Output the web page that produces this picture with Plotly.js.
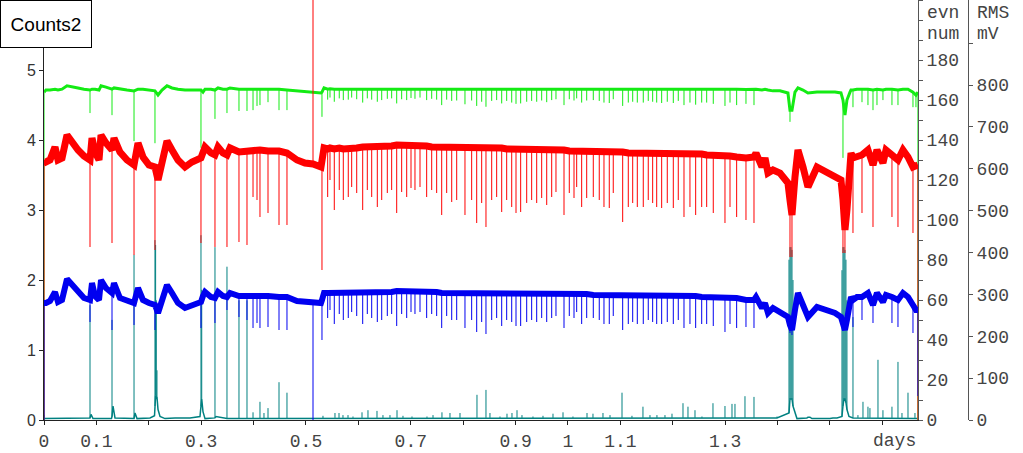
<!DOCTYPE html>
<html><head><meta charset="utf-8">
<script src="https://cdn.plot.ly/plotly-3.0.1.min.js"></script>
<style>html,body{margin:0;padding:0;background:#fff}#chart{width:1023px;height:453px}</style>
</head><body><div id="chart"></div>
<script>
const _ = null;

// ---- shared time base (days) for the evn / RMS series ----
const days = [
 0,0.0038,0.0115,0.0210,0.0267,0.0344,0.0439,0.0534,0.0649,0.0763,
 0.0878,0.0916,0.0973,0.1050,0.1088,0.1183,0.1298,0.1336,0.1450,0.1584,
 0.1718,0.1794,0.1889,0.2004,0.2118,0.2176,0.2252,0.2347,0.2443,0.2557,
 0.2691,0.2824,0.2996,0.3034,0.3073,0.3187,0.3263,0.3321,0.3416,0.3492,
 0.3550,0.3721,0.3874,0.3989,0.4065,0.4122,0.4275,0.4485,0.4637,0.4828,
 0.4981,0.5134,0.5286,0.5305,0.5344,
 0.5414,0.5458,0.5540,0.5635,0.5712,0.5807,0.5872,0.5968,0.6082,0.6170,
 0.6254,0.6361,0.6445,0.6552,0.6635,0.6731,0.6826,0.6922,0.7004,0.7080,
 0.7176,0.7303,0.7399,0.7494,0.7590,0.7685,0.7781,0.7876,0.8034,0.8162,
 0.8258,0.8353,0.8435,0.8544,0.8639,0.8735,0.8830,0.8926,0.9008,0.9097,
 0.9212,0.9307,0.9403,0.9498,0.9594,0.9689,0.9771,0.9924,1.0025,1.0115,
 1.0166,1.0261,1.0357,1.0483,1.0597,1.0687,1.0788,1.0864,1.1044,1.1151,
 1.1235,1.1323,1.1437,1.1532,1.1616,1.1693,1.1788,1.1895,1.2010,1.2105,
 1.2214,1.2328,1.2437,1.2552,1.2647,1.2773,1.2996,1.3092,1.3219,1.3397,
 1.3550,
 1.3588,1.3702,1.3760,1.3817,1.3912,1.4046,1.4198,1.4237,1.4275,1.4332,
 1.4389,1.4485,1.4580,1.4752,1.4943,1.5095,1.5210,1.5248,1.5286,1.5324,
 1.5382,1.5401,1.5439,1.5515,1.5611,1.5725,1.5821,1.5897,1.6011,1.6069,
 1.6183,1.6298,1.6393,1.6489,1.6584,1.6641,1.6679
];

// red series, evn num (level, and spike extreme where a spike occurs)
const evnRed = [
 130,129,130,136.5,130,131,142.5,138.5,135,132,
 130,141,134,130,142.5,138.5,135,141,134,130,
 127.5,138.5,131.5,127.5,126.5,120,130,139.5,135,130,
 126.5,129,131,134,136.5,133.5,132.5,136.5,133.5,132.5,
 136,134,134.5,135,135,135,134.5,134.5,133.5,130,
 128.5,128,126.5,131,136,
 135.5,136,135.5,136,135.5,136,136,136,136.5,136.5,
 136.5,137,137,137,137,137.5,137.5,137.5,137.5,137,
 137,137,136.5,136.5,136.5,136.5,136.5,136,136,136,
 136,136,136,136,136,136,135.5,135.5,135.5,135.5,
 135.5,135.5,135,135,135,135,135,135,134.5,134.5,
 134.5,134.5,134.5,134,134,134,134,134,134,133.5,
 133.5,133.5,133.5,133.5,133.5,133.5,133.5,133.5,133,133,
 133,133,133,133,132.5,132.5,132,132,131.5,131,
 131.5,
 133.5,126.5,131,123.5,125,123.5,118.5,110,102.5,121.5,
 135,126.5,116.5,126.5,123.5,121.5,120,110,95,105,
 130,133.5,131,131.5,132.5,135,127.5,135,128.5,135,
 132.5,130,135,131.5,126.5,127.5,127.5
];
const evnRedSpike = [
 0,_,_,_,_,_,_,_,_,_,
 86.5,_,_,_,_,_,88.5,_,_,_,
 82.5,_,_,_,85,_,_,_,_,_,
 _,_,88.5,_,_,_,86.5,_,_,86.5,
 _,89,87.5,111.5,110,101.5,103.5,97.5,97.5,_,
 _,250,_,75,_,
 111.5,120,105,115,110,111.5,116.5,113.5,105,115,
 111.5,106.5,110,113.5,115,103.5,114,111.5,116,115,
 116.5,111.5,115,113.5,102.5,113.5,109,110,102.5,110,
 98.5,108.5,96.5,110,111.5,104,110,106.5,103.5,104,
 108.5,110,108.5,111,107.5,111.5,114,102.5,113.5,111,
 116.5,106.5,111,111.5,110,106.5,106,113.5,99,106.5,
 108.5,106.5,106.5,110,108.5,106.5,106,108.5,106,110,
 101.5,106.5,102.5,106.5,106.5,103.5,98.5,106.5,101.5,100,
 98.5,
 _,_,_,_,_,_,_,81.5,81.5,_,
 _,_,_,_,_,_,_,83.5,83.5,_,
 _,_,93.5,_,103.5,_,96.5,_,_,_,
 101.5,96.5,_,_,93.5,_,0
];

// blue series, evn num
const evnBlue = [
 58.5,58.5,59.5,64,59,60,70.5,67.5,64,61,
 60,68.5,62,60,70,66,63.5,68.5,61,59.5,
 58.5,66,60,58.5,57.5,53.5,60,67.5,63.5,58.5,
 56,57.5,59,62,64,61.5,61,64,62,61.5,
 63.5,62,62,62.5,62.5,62.5,62,61.5,61.5,59.5,
 59,58.5,58.5,60,63.5,
 63.5,63.5,63.5,63.5,63.5,64,64,63.5,64,64,
 64,64,64,64,64,64.5,64.5,64.5,64.5,64,
 64,64,64,64,63.5,63.5,63.5,63.5,63.5,63.5,
 63.5,63.5,63.5,63.5,63.5,63.5,63.5,63.5,63.5,63.5,
 63,63,63,63,63,63,63,63,63,63,
 63,63,63,62.5,62.5,62.5,62.5,62.5,62.5,62.5,
 62.5,62.5,62.5,62.5,62.5,62.5,62.5,62,62,62,
 62,62,62,61.5,61.5,61.5,61.5,61.5,61,60,
 60,
 61.5,56,58.5,53.5,56,54,51.5,47.5,45,55,
 63.5,57.5,51.5,56.5,55,53.5,51.5,47.5,45,50,
 61.5,61.5,60,61.5,61.5,63.5,57.5,63.5,59,62.5,
 61.5,60,63.5,61.5,57.5,55,55
];
const evnBlueSpike = [
 0,_,_,_,_,_,_,_,_,_,
 49,_,_,_,_,_,45,_,_,_,
 47.5,_,_,_,45,_,_,_,_,_,
 _,_,46,_,_,_,48.5,_,_,55,
 _,51.5,50,46,48.5,46,46.5,45,45,_,
 _,0,_,40,_,
 51,55,48,53,50,51,54,52,48,53,
 51,49,50,52,53,47,53,51,54,53,
 54,51,53,52,46,52,50,50,46,50,
 44,49,43,50,51,47,50,49,47,47,
 49,50,49,51,49,51,52,46,52,51,
 54,48,51,51,50,48,48,52,45,48,
 49,48,48,50,49,48,48,49,48,50,
 46,48,46,48,48,47,44,48,46,46.5,
 46,
 _,_,_,_,_,_,_,43.5,42.5,_,
 _,_,_,_,_,_,_,46,_,_,
 _,_,46.5,_,50,_,48.5,_,_,_,
 48.5,46.5,_,_,43.5,_,12
];

// green series, RMS mV
const rmsGreen = [
 783,788,788,790,788,790,798,795,793,790,
 788,790,790,788,798,795,790,793,790,788,
 786,790,790,788,786,776,788,798,793,790,
 788,788,788,783,790,790,788,793,790,790,
 793,790,790,790,790,790,790,790,788,786,
 783,783,781,783,793,
 790,791,790,790,791,790,790,791,790,791,
 790,791,790,791,790,791,790,790,791,790,
 791,790,790,791,790,790,791,790,790,791,
 790,790,791,790,790,791,790,790,791,790,
 790,791,790,790,791,790,790,790,791,790,
 790,791,790,790,790,791,790,790,790,791,
 790,790,790,791,790,790,790,791,790,790,
 790,791,790,790,790,791,790,790,790,789,
 789,
 790,788,790,788,786,786,781,740,740,783,
 793,788,781,783,783,783,781,764,728,764,
 783,788,788,790,790,790,788,790,788,790,
 790,788,790,790,783,776,783
];
const rmsGreenSpike = [
 0,_,_,_,_,_,_,_,_,_,
 733,_,_,_,_,_,728,_,_,_,
 666,_,_,_,661,_,_,_,_,_,
 _,_,650,_,_,_,719,_,_,733,
 _,738,738,740,750,752,759,740,740,_,
 _,_,_,724,_,
 765,770,760,768,764,765,770,766,758,768,
 765,760,764,767,768,756,766,764,769,767,
 770,764,767,765,752,765,762,763,754,763,
 750,760,748,762,764,756,762,758,755,756,
 760,762,760,763,759,764,766,752,766,763,
 768,758,763,764,762,758,757,766,750,758,
 760,758,758,762,760,758,757,760,757,762,
 752,758,753,758,758,755,750,758,752,755,
 752,
 _,_,_,_,_,_,_,712,_,_,
 _,_,_,_,_,_,_,626,_,_,
 _,_,747,_,759,752,740,752,764,_,
 752,752,_,_,747,747,0
];

// teal series, Counts2
const countDays = [
 0,0.0038,0.0868,0.0878,0.0897,0.0935,0.1288,0.1298,0.1317,0.1355,
 0.1718,0.1737,0.1775,0.2023,0.2109,0.2118,0.2130,0.2143,0.2156,0.2176,
 0.2214,0.2309,0.2500,0.2786,0.2977,0.2996,0.3010,0.3034,0.3073,0.3263,
 0.3282,0.3492,0.3721,0.3874,0.3989,0.4122,0.4198,0.4275,0.4485,0.4637,
 0.4885,0.5134,0.5324,0.5553,0.5630,0.5706,0.5802,0.5897,0.6069,0.6183,
 0.6355,0.6469,0.6603,0.6737,0.6851,0.7023,0.7309,0.7424,0.7595,0.7748,
 0.7939,0.8263,0.8435,0.8511,0.8702,0.8836,0.8931,0.9027,0.9122,0.9332,
 0.9523,0.9714,0.9905,1.0095,1.0363,1.0477,1.0668,1.0802,1.1031,1.1221,
 1.1431,1.1565,1.1698,1.1851,1.1985,1.2195,1.2290,1.2424,1.2557,1.2767,
 1.2996,1.3130,1.3187,1.3378,1.3550,1.3989,1.4218,1.4237,1.4256,1.4275,
 1.4294,1.4313,1.4370,1.4561,1.4580,1.4618,1.4656,1.5000,1.5057,1.5134,
 1.5229,1.5248,1.5267,1.5286,1.5305,1.5324,1.5363,1.5439,1.5534,1.5630,
 1.5725,1.5763,1.5916,1.6011,1.6183,1.6298,1.6374,1.6489,1.6622,1.6670
];
const counts2 = [
 0.02,0.02,0.02,0.03,0.08,0.02,0.02,0.05,0.2,0.03,
 0.02,0.1,0.02,0.03,0.06,0.2,0.35,0.3,0.33,0.15,
 0.05,0.02,0.03,0.03,0.05,0.2,0.3,0.12,0.02,0.03,
 0.05,0.02,0.02,0.02,0.02,0.02,0.02,0.02,0.02,0.02,
 0.02,0.02,0.02,0.03,0.03,0.03,0.03,0.03,0.03,0.03,
 0.03,0.03,0.03,0.03,0.03,0.03,0.03,0.03,0.03,0.03,
 0.03,0.03,0.03,0.03,0.03,0.03,0.03,0.03,0.03,0.03,
 0.03,0.03,0.03,0.03,0.03,0.03,0.03,0.03,0.03,0.03,
 0.03,0.03,0.03,0.03,0.03,0.03,0.03,0.03,0.03,0.03,
 0.03,0.03,0.03,0.03,0.03,0.03,0.1,0.3,0.3,0.3,
 0.2,0.15,0.02,0.03,0.04,0.04,0.02,0.02,0.03,0.03,
 0.05,0.2,0.3,0.3,0.25,0.15,0.05,0.03,0.03,0.03,
 0.03,0.03,0.03,0.03,0.03,0.03,0.03,0.03,0.03,0.02
];
const counts2Spike = [
 0.07,_,_,1.64,_,_,_,1.43,_,_,
 2.36,_,_,_,_,2.57,2.5,1.71,0.71,_,
 _,_,_,_,_,2.64,1.86,_,_,2.47,
 _,2.19,1.71,1.71,0.11,0.26,0.10,0.17,0.54,0.39,
 _,_,0.06,0.10,0.10,0.07,0.07,0.05,0.11,0.14,
 0.13,0.07,0.07,0.14,0.06,0.05,0.05,0.07,0.11,0.10,
 0.10,0.36,0.43,0.10,0.05,0.09,0.10,0.14,0.07,0.05,
 0.06,0.09,0.11,0.05,0.10,0.09,0.10,0.07,0.39,0.06,
 0.19,0.07,0.07,0.07,0.09,0.24,0.19,0.14,0.05,0.24,
 0.20,0.23,0.23,0.34,0.33,0.05,2.29,2.47,2.47,2.43,
 2.0,_,_,_,_,_,_,_,_,_,
 2.14,2.47,2.47,2.43,2.29,1.71,_,1.47,0.07,0.26,
 0.19,0.17,0.86,0.14,0.19,0.83,0.10,0.39,0.10,_
];

// ---- axis ticks ----
const xTickVals = [0,0.1,0.2,0.3,0.4,0.5,0.6,0.7,0.8,0.9,1,1.1,1.2,1.3,1.4,1.5,1.6];
const xTickText = ['0','0.1','','0.3','','0.5','','0.7','','0.9','1','1.1','','1.3','','',''];
const countTicks = [0,1,2,3,4,5];
const evnTicks = [0,10,20,30,40,50,60,70,80,90,100,110,120,130,140,150,160,170,180,190,200,210];
const evnText = ['0','','20','','40','','60','','80','','100','','120','','140','','160','','180','','',''];
const rmsTicks = [0,100,200,300,400,500,600,700,800,900];
const rmsText = ['0','100','200','300','400','500','600','700','800',''];

// ---- build traces ----
function spikeLines(x, base, sp) {
  const xs = [], ys = [];
  for (let i = 0; i < x.length; i++) {
    if (sp[i] !== null) { xs.push(x[i], x[i], null); ys.push(base[i], sp[i], null); }
  }
  return {xs, ys};
}
const TEAL = 'rgb(0,128,128)', GREEN = 'rgb(20,235,20)', RED = 'rgb(255,0,0)', BLUE = 'rgb(0,0,240)';
const traces = [];
function addSeries(x, y, sp, color, bandW, ya) {
  const s = spikeLines(x, y, sp);
  traces.push({x: s.xs, y: s.ys, yaxis: ya, mode: 'lines', line: {color: color, width: 1}, hoverinfo: 'skip'});
  traces.push({x: x, y: y, yaxis: ya, mode: 'lines', line: {color: color, width: bandW}, hoverinfo: 'skip'});
}
addSeries(countDays, counts2, counts2Spike, TEAL, 1.5, 'y');
addSeries(days, rmsGreen, rmsGreenSpike, GREEN, 3, 'y2');
addSeries(days, evnRed, evnRedSpike, RED, 7, 'y3');
addSeries(days, evnBlue, evnBlueSpike, BLUE, 6, 'y3');

const MONO = 'Liberation Mono, Courier New, monospace';
const SANS = 'Liberation Sans, Arial, sans-serif';
const XMAX = 1.668, DOM = 874/924;
const countMax = 6, evnMax = 210, rmsMax = 1003;

const layout = {
  width: 1023, height: 453,
  margin: {l: 44, r: 55, t: 0, b: 33, pad: 0},
  paper_bgcolor: '#fff', plot_bgcolor: '#fff',
  showlegend: false,
  xaxis: {domain: [0, DOM], range: [0, XMAX], showgrid: false, zeroline: false,
    showline: true, linecolor: '#222', linewidth: 1,
    tickmode: 'array', tickvals: xTickVals, ticktext: xTickText,
    ticks: 'outside', ticklen: 4, tickcolor: '#222',
    tickfont: {family: MONO, size: 18, color: '#444'}},
  xaxis2: {overlaying: 'x', anchor: 'y', range: [0, XMAX], showgrid: false, zeroline: false,
    showline: false, tickmode: 'array', tickvals: xTickVals, ticks: 'inside', ticklen: 4,
    tickcolor: '#222', showticklabels: false},
  yaxis: {range: [0, countMax], showgrid: false, zeroline: false, showline: true,
    linecolor: '#222', linewidth: 1, tickmode: 'array', tickvals: countTicks,
    ticks: 'outside', ticklen: 4, tickcolor: '#222',
    tickfont: {family: SANS, size: 16, color: '#333'}},
  yaxis2: {overlaying: 'y', anchor: 'free', position: 1, side: 'right', range: [0, rmsMax],
    showgrid: false, zeroline: false, showline: true, linecolor: '#555', linewidth: 1,
    tickmode: 'array', tickvals: rmsTicks, ticktext: rmsText,
    ticks: 'outside', ticklen: 4, tickcolor: '#555',
    tickfont: {family: MONO, size: 18, color: '#444'}},
  yaxis3: {overlaying: 'y', anchor: 'x', side: 'right', range: [0, evnMax],
    showgrid: false, zeroline: false, showline: true, linecolor: '#555', linewidth: 1,
    tickmode: 'array', tickvals: evnTicks, ticktext: evnText,
    ticks: 'outside', ticklen: 4, tickcolor: '#555',
    tickfont: {family: MONO, size: 18, color: '#444'}},
  yaxis4: {overlaying: 'y', anchor: 'x', side: 'left', range: [0, countMax], showgrid: false,
    zeroline: false, showline: false, tickmode: 'array', tickvals: countTicks,
    ticks: 'inside', ticklen: 4, tickcolor: '#222', showticklabels: false},
  yaxis5: {overlaying: 'y', anchor: 'x', side: 'right', range: [0, evnMax], showgrid: false,
    zeroline: false, showline: false, tickmode: 'array', tickvals: evnTicks,
    ticks: 'inside', ticklen: 4, tickcolor: '#555', showticklabels: false},
  yaxis6: {overlaying: 'y', anchor: 'free', position: 1, side: 'right', range: [0, rmsMax],
    showgrid: false, zeroline: false, showline: false, tickmode: 'array', tickvals: rmsTicks,
    ticks: 'inside', ticklen: 4, tickcolor: '#555', showticklabels: false},
  annotations: [
    {xref: 'paper', yref: 'paper', x: -44/924, y: 1, xanchor: 'left', yanchor: 'top',
     text: 'Counts2', showarrow: false, font: {family: SANS, size: 19, color: '#000'},
     bgcolor: '#fff', bordercolor: '#000', borderwidth: 1, borderpad: 0, width: 90, height: 46},
    {xref: 'paper', yref: 'paper', x: 881/924, y: 407/420, xanchor: 'left', yanchor: 'middle',
     text: 'evn', showarrow: false, font: {family: MONO, size: 18, color: '#444'}},
    {xref: 'paper', yref: 'paper', x: 881/924, y: 386/420, xanchor: 'left', yanchor: 'middle',
     text: 'num', showarrow: false, font: {family: MONO, size: 18, color: '#444'}},
    {xref: 'paper', yref: 'paper', x: 931/924, y: 407/420, xanchor: 'left', yanchor: 'middle',
     text: 'RMS', showarrow: false, font: {family: MONO, size: 18, color: '#444'}},
    {xref: 'paper', yref: 'paper', x: 931/924, y: 386/420, xanchor: 'left', yanchor: 'middle',
     text: 'mV', showarrow: false, font: {family: MONO, size: 18, color: '#444'}},
    {xref: 'paper', yref: 'paper', x: DOM, y: -21/420, xanchor: 'right', yanchor: 'middle',
     text: 'days', showarrow: false, font: {family: MONO, size: 18, color: '#444'}}
  ]
};

Plotly.newPlot('chart', traces, layout, {staticPlot: true, displayModeBar: false});
</script>
</body></html>
